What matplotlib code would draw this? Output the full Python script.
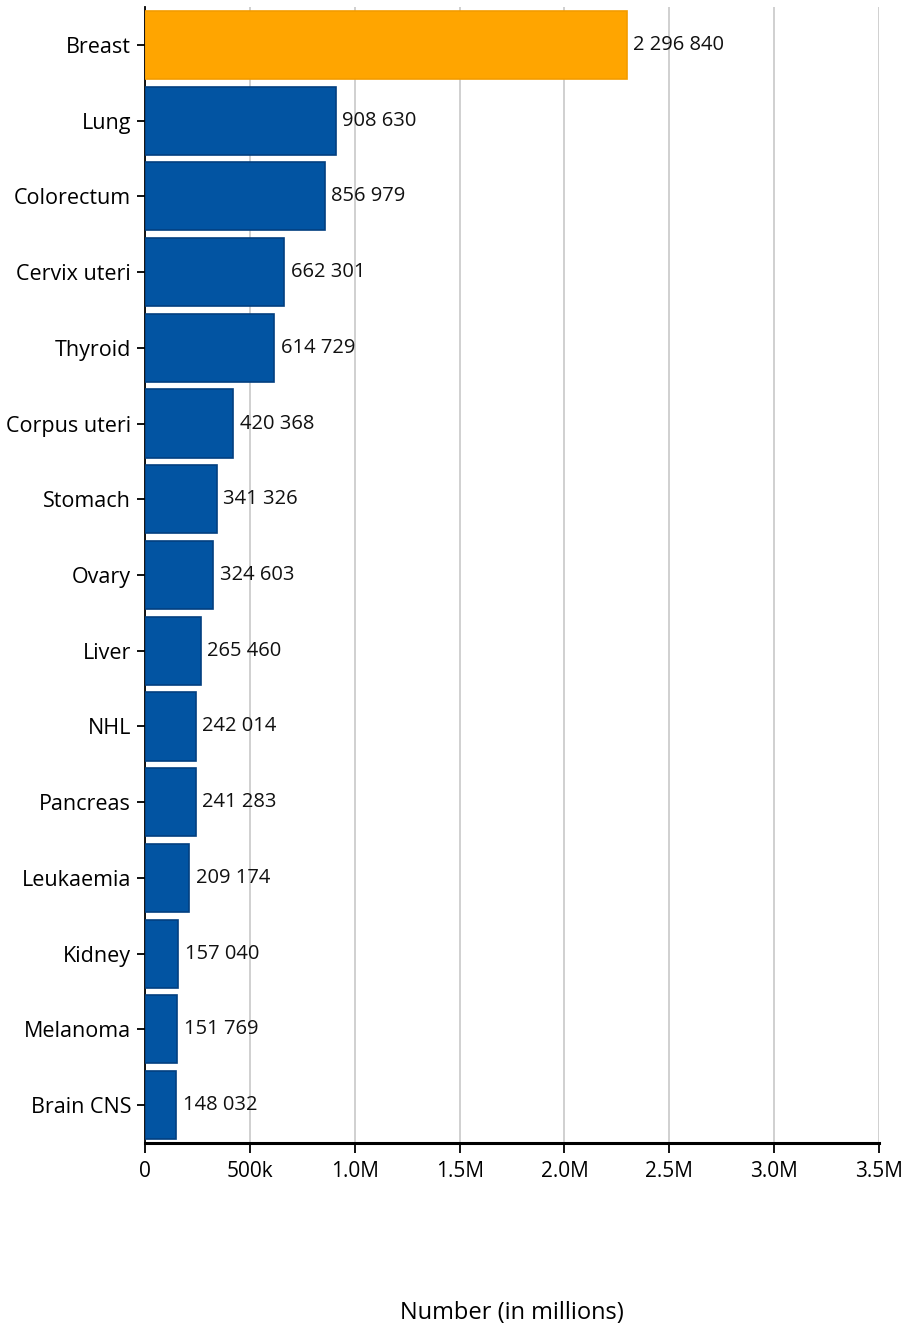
import matplotlib
matplotlib.use("Agg")
import matplotlib.pyplot as plt
from matplotlib.ticker import FixedLocator

# ================= DATA =================
cancers = ["Breast", "Lung", "Colorectum", "Cervix uteri", "Thyroid",
           "Corpus uteri", "Stomach", "Ovary", "Liver", "NHL",
           "Pancreas", "Leukaemia", "Kidney", "Melanoma", "Brain CNS"]
cases = [2296840, 908630, 856979, 662301, 614729,
         420368, 341326, 324603, 265460, 242014,
         241283, 209174, 157040, 151769, 148032]
x_ticks = [0, 500000, 1000000, 1500000, 2000000, 2500000, 3000000, 3500000]
x_tick_labels = ["0", "500k", "1.0M", "1.5M", "2.0M", "2.5M", "3.0M", "3.5M"]

ORANGE = "#FFA500"
BLUE = "#0254A2"

plt.rcParams["font.family"] = ["Open Sans", "DejaVu Sans"]

fig = plt.figure(figsize=(9.04, 13.32), dpi=100)
ax = fig.add_axes([145 / 904, 1 - 1143 / 1332, (879 - 145) / 904, (1143 - 7) / 1332])

colors = [ORANGE if c == "Breast" else BLUE for c in cancers]
edges = ["#F39C00" if c == "Breast" else "#023F80" for c in cancers]
ypos = list(range(len(cancers)))
ax.barh(ypos, cases, height=0.9, color=colors, edgecolor=edges, linewidth=1.2, zorder=3)

# value labels (space as thousands separator)
for y, v in zip(ypos, cases):
    lab = f"{v:,}".replace(",", " ")
    ax.text(v + 32000, y, lab, va="center", ha="left", fontsize=14.5, color="#111111", zorder=4)

ax.set_xlim(0, 3500000)
ax.set_ylim(len(cancers) - 0.5, -0.5)
ax.set_yticks(ypos)
ax.set_yticklabels(cancers, fontsize=15.5)
ax.xaxis.set_major_locator(FixedLocator(x_ticks))
ax.set_xticklabels(x_tick_labels, fontsize=15)

ax.grid(axis="x", color="#c8c8c8", linewidth=1.2, zorder=0)
ax.set_axisbelow(True)

for s in ["top", "right"]:
    ax.spines[s].set_visible(False)
ax.spines["left"].set_linewidth(1.3)
ax.spines["bottom"].set_linewidth(2.2)
ax.tick_params(axis="y", length=6, width=1.3, pad=4)
ax.tick_params(axis="x", length=7, width=1.3, pad=6)

fig.text(512 / 904, 1 - 1313 / 1332, "Number (in millions)", ha="center", va="center", fontsize=17)

fig.savefig("out.png", dpi=100)
